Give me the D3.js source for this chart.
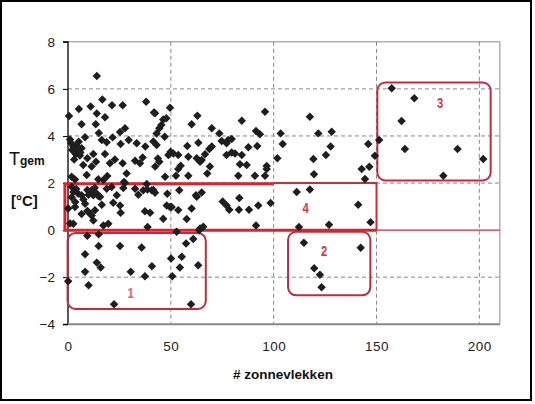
<!DOCTYPE html>
<html><head><meta charset="utf-8">
<script src="https://cdn.jsdelivr.net/npm/d3@7"></script>
<style>html,body{margin:0;padding:0;background:#fff;}svg{display:block;}</style>
</head><body>
<script>
// ---- data ----
const xTicks = [0, 50, 100, 150, 200];
const yTicks = [-4, -2, 0, 2, 4, 6, 8];
const xTitle = "# zonnevlekken";
// points: [sunspots, mean temperature]
const pointsHigh = [
[14,6.55],[0.5,4.85],[5.3,5.15],[11,5.25],[16.7,5.55],[14,4.95],[18,4.8],[21.4,5.3],[26.6,5.3],[38,5.45],[41.8,5.0],[49.6,5.2],
[6.6,4.5],[13.5,4.5],[15,4.13],[25.3,4.17],[27.7,4.33],[45.4,4.47],[46.3,4.7],[43.1,4.1],[44.4,4.33],[42.3,4.96],[47.8,4.75],
[1,3.85],[5.2,3.75],[8.3,3.95],[16.4,3.83],[18.8,3.73],[21.7,3.94],[25.6,3.66],[29.5,3.83],[33.4,3.69],[37.6,3.55],[41.5,3.76],[43.1,3.62],[47,3.97],
[2.6,3.55],[4.4,3.33],[3.7,3.23],[6.6,3.48],[5.8,3.17],[2,3.4],[4,3.6],[3,3.0],[6,3.3],[1.5,3.7],
[12.3,3.23],[9.4,3.05],[18,3.23],[22.8,3.0],[20.4,2.84],[13.6,2.9],[7.4,2.77],[11.5,2.7],[26.6,2.84],[28.5,2.41],[32.6,2.95],[35,2.84],[36.3,3.09],
[42.4,2.7],[44.4,2.9],[43.7,3.04],[48.8,3.19],[49.9,3.33],[47.2,2.27],[9.1,2.34],[14.7,2.16],[19.1,2.3],[17.2,2.13],[1.8,2.27],[3.4,2.15],[27.2,2.04]
];
const pointsMid = [
[62.9,4.86],[60.1,4.5],[69.9,4.33],[84.5,4.65],[95.8,5.03],[73.6,4.11],[74.7,3.79],[77.9,3.83],[79.6,3.87],[77.1,3.69],[91.4,4.21],[93.3,4.07],
[92,3.57],[87.7,3.52],[103.4,4.11],[104.4,3.66],[101.8,3.05],[58,3.57],[63.4,3.71],[68.7,3.45],[69.9,3.55],[51.2,3.26],[53.6,3.19],[58.5,3.12],
[62.6,3.05],[65,2.98],[66.6,3.22],[77.1,3.19],[79.6,3.3],[81.2,3.26],[84.5,3.19],[54.8,2.74],[53.6,2.6],[64.2,2.9],[69,2.7],[83.6,2.8],[86.9,2.77],
[96.6,2.72],[67.7,2.41],[58.5,2.31],[52.5,2.31],[82.8,2.31],[90.9,2.31],[95.8,2.31],[96.6,2.6],
[117.6,4.82],[121.7,4.11],[128.2,4.18],[127.7,3.55],[125.4,3.19],[119.3,3.02],[146,3.66],[149.2,3.16],[151.3,3.83],[142.8,2.6],[146.5,2.69],[144.4,2.17],[119.6,2.37]
];
const pointsLow = [
[2.6,1.62],[1.8,1.4],[5,1.55],[6.6,1.48],[11.5,1.69],[12.3,1.48],[14,1.55],[14.7,1.45],[18.8,1.76],[21.2,1.83],[23.7,1.48],[26.9,1.79],[32.6,1.76],
[34.2,1.5],[36.6,1.69],[38.6,1.73],[40.7,1.69],[48.3,1.55],[8.3,1.12],[3.4,0.98],[6.6,0.69],[9.9,0.77],[11.5,0.62],[12.3,0.41],[13.1,0.84],[16.4,1.08],
[22,1.16],[25.3,1.05],[25.6,0.74],[17.2,0.2],[19.6,0.27],[2.6,0.27],[37.4,0.8],[39.9,0.74],[46.3,0.48],[48,1.05],[49.6,0.98],[38.7,0.13],[1.8,1.84],
[9.4,1.7],[15.6,1.42],[27.7,2.01],[38.3,1.96],[41.5,1.7],[42.3,1.59],[0.1,0.92],[1,0.28],[9.4,0.81],[4,1.75],[7.5,1.3],[10,1.5],[3.5,1.2],[13,1.8],
[53.6,0.85],[57.7,0.47],[60.1,0.92],[62.6,1.42],[54.1,1.69],[62.2,1.48],[50.4,0.98],[65,1.6],[64.2,0.07],[65.8,0.14],[63.8,0.0],
[75.2,1.22],[77.1,1.05],[78.4,0.87],[83.3,1.36],[83.1,0.87],[88,0.87],[92.5,1.05],[98.5,1.15],[91.4,0.2],
[111.2,1.62],[117.6,1.73],[141.1,1.08],[147.1,0.34],[126.9,0.23],[112.3,0.13]
];
const pointsNeg = [
[9.4,-0.24],[14.9,-0.18],[14.9,-0.67],[25.3,-0.67],[35.8,-0.74],[8.3,-1.02],[14,-1.38],[15.9,-1.59],[8.3,-1.77],[30.5,-1.77],[37.4,-1.96],
[40.8,-1.53],[50.1,-1.2],[55.3,-1.13],[54.4,-1.59],[63.3,-1.49],[57.4,-0.57],[60.9,-0.38],[50.7,-1.96],[0.1,-2.17],[10,-2.34],[22.4,-3.15],
[59.8,-3.15],[52.8,-0.07],[114.7,-0.54],[142.3,-0.75],[119.7,-1.62],[122.5,-1.9],[123.3,-2.43]
];
const pointsBox3 = [[157.4,6.03],[168.4,5.6],[162.2,4.64],[163.8,3.45],[189.4,3.45],[201.9,3.02],[182.5,2.31]];
// annotation boxes: [x0, x1, y0, y1, label, labelX, labelY]
const roundBoxes = [
  [-0.2, 67, -0.12, -3.35, "1", 30.5, -2.65],
  [107, 147, -0.07, -2.77, "2", 124.5, -0.9],
  [150.4, 205.5, 6.27, 2.11, "3", 181, 5.4]
];
const box4 = [-1.5, 150, 0, 2, "4", 115.5, 0.95];

// ---- chart ----
const W = 535, H = 404;
const svg = d3.select("body").append("svg").attr("width", W).attr("height", H);
const x = d3.scaleLinear().domain([0, 210]).range([68, 499.9]);
const y = d3.scaleLinear().domain([-4, 8]).range([324.3, 41.8]);
const red = "#c8283c";

svg.append("rect").attr("x", 1).attr("y", 1).attr("width", 530).attr("height", 399)
  .attr("fill", "#fff").attr("stroke", "#000").attr("stroke-width", 2);

// grid
const g = svg.append("g");
g.selectAll(".vg").data(xTicks.filter(d => d > 0)).join("line")
  .attr("x1", d => x(d)).attr("x2", d => x(d)).attr("y1", y(8)).attr("y2", y(-4))
  .attr("stroke", "#888").attr("stroke-dasharray", "4,3").attr("stroke-width", 1);
g.selectAll(".hg").data(yTicks.filter(d => d !== 0 && d !== -4 && d !== 8)).join("line")
  .attr("x1", x(0)).attr("x2", x(210)).attr("y1", d => y(d)).attr("y2", d => y(d))
  .attr("stroke", "#888").attr("stroke-dasharray", "4,3").attr("stroke-width", 1);
g.append("path").attr("d", `M${x(0)},${y(8)}H${x(210)}V${y(-4)}`).attr("fill", "none").attr("stroke", "#888").attr("stroke-width", 1);
g.append("line").attr("x1", x(0)).attr("x2", x(210)).attr("y1", y(0)).attr("y2", y(0)).attr("stroke", red).attr("stroke-width", 1.2);

// axes
const yAxis = d3.axisLeft(y).tickValues(yTicks).tickSize(5).tickPadding(8).tickFormat(d3.format("d"));
const ya = svg.append("g").attr("transform", `translate(${x(0)},0)`).call(yAxis);
ya.select(".domain").attr("stroke", "#000").attr("stroke-width", 1.3);
ya.selectAll(".tick line").attr("stroke", "#000");
ya.selectAll("text").attr("font-family", "Liberation Sans, Arial, sans-serif").attr("font-size", 13.5).attr("fill", "#222");
const xAxis = d3.axisBottom(x).tickValues(xTicks).tickSize(0).tickPadding(17).tickFormat(d3.format("d"));
const xa = svg.append("g").attr("transform", `translate(0,${y(-4)})`).call(xAxis);
xa.select(".domain").attr("stroke", "#888").attr("stroke-width", 2);
xa.selectAll("text").attr("font-family", "Liberation Sans, Arial, sans-serif").attr("font-size", 13.5).attr("fill", "#222").attr("letter-spacing", 0.5);
xa.select(".domain").attr("d", `M${x(0)},0H${x(210)}`);
ya.select(".domain").attr("d", `M-5,${y(-4)}H0V${y(8)}H-5`);

// boxes
svg.selectAll(".rb").data(roundBoxes).join("rect")
  .attr("x", d => x(d[0])).attr("y", d => y(d[2]))
  .attr("width", d => x(d[1]) - x(d[0])).attr("height", d => y(d[3]) - y(d[2]))
  .attr("rx", 8).attr("ry", 8).attr("fill", "none").attr("stroke", red).attr("stroke-width", 2);
const b = box4;
svg.append("path").attr("d", `M${x(100)},${y(b[3])}H${x(b[1])}V${y(b[2])}`)
  .attr("fill", "none").attr("stroke", "#d42a30").attr("stroke-width", 2);
svg.append("path").attr("d", `M${x(100)},${y(b[3]) + 0.8}H${x(b[0])}V${y(b[2])}H${x(b[1])}`)
  .attr("fill", "none").attr("stroke", "#e0202a").attr("stroke-width", 3);

const labels = roundBoxes.concat([box4]);
svg.selectAll(".bl").data(labels).join("text")
  .attr("x", d => x(d[5])).attr("y", d => y(d[6])).attr("text-anchor", "middle").attr("dominant-baseline", "central")
  .attr("font-family", "Liberation Sans, Arial, sans-serif").attr("font-weight", "bold").attr("font-size", 14.5)
  .attr("fill", d => d[4] === "1" ? "#e06070" : "#d8384a").attr("transform", d => `translate(${x(d[5])},${y(d[6])}) scale(0.78,1) translate(${-x(d[5])},${-y(d[6])})`)
  .text(d => d[4]);

// points
const all = pointsHigh.concat(pointsMid, pointsLow, pointsNeg, pointsBox3);
const sym = d3.symbol().type(d3.symbolSquare).size(36);
svg.append("g").selectAll("path").data(all).join("path")
  .attr("d", sym).attr("fill", "#1e1e1e")
  .attr("transform", d => `translate(${x(d[0])},${y(d[1])}) rotate(45)`);

// titles
svg.append("text").attr("x", 283).attr("y", 374).attr("text-anchor", "middle").attr("dominant-baseline", "central")
  .attr("font-family", "Liberation Sans, Arial, sans-serif").attr("font-weight", "bold").attr("font-size", 13.5).attr("fill", "#111")
  .text(xTitle);
const yt = svg.append("text").attr("x", 9).attr("y", 165).attr("font-family", "Liberation Sans, Arial, sans-serif").attr("fill", "#111");
yt.append("tspan").attr("font-size", 18).text("T");
yt.append("tspan").attr("font-size", 12).attr("font-weight", "bold").text("gem");
svg.append("text").attr("x", 11).attr("y", 206).attr("font-family", "Liberation Sans, Arial, sans-serif").attr("font-size", 15).attr("font-weight", "bold").attr("fill", "#111")
  .text("[°C]");
</script>
</body></html>
